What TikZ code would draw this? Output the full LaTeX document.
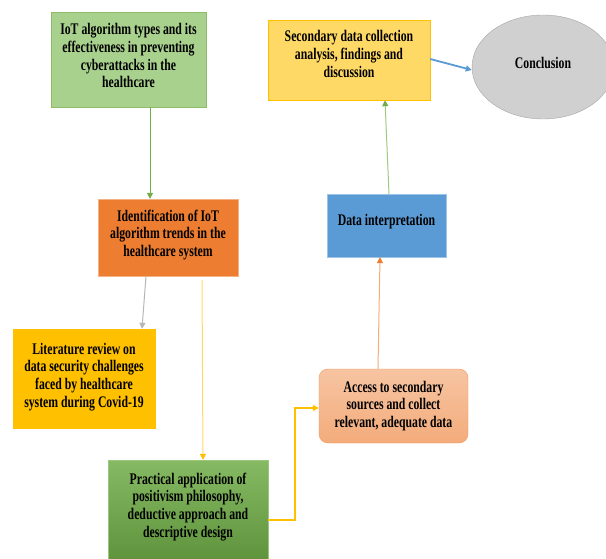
\documentclass[tikz,border=0pt]{standalone}
\usepackage{fontspec}
\setmainfont[FakeStretch=0.725]{Liberation Serif}
\usetikzlibrary{arrows.meta,shapes.geometric}

\definecolor{lightgreen}{HTML}{A9D18E}
\definecolor{midgreen}{HTML}{70AD47}
\definecolor{orangebox}{HTML}{ED7D31}
\definecolor{orangeline}{HTML}{F4B183}
\definecolor{gold}{HTML}{FFC000}
\definecolor{paleyellow}{HTML}{FFD966}
\definecolor{bluebox}{HTML}{5B9BD5}
\definecolor{paleblue}{HTML}{9DC3E6}
\definecolor{greybox}{HTML}{D0D0D0}
\definecolor{greyline}{HTML}{A5A5A5}

\begin{document}
\begin{tikzpicture}[%
      x=1pt, y=-1pt,
      box/.style={draw, align=center, inner sep=0pt,
        font=\bfseries\fontsize{16.2}{17.8}\selectfont},
      link/.style={line width=1pt, -{Triangle[length=6pt,width=6pt]}},
      ]
      \useasboundingbox (0,0) rectangle (606,559);

      % boxes
      \node [box, fill=lightgreen, draw=midgreen!80, minimum width=155pt, minimum height=95pt]
        (types) at (128.5,59.5) {IoT algorithm types and its\\effectiveness in preventing\\cyberattacks in the\\healthcare\\[-10pt]};
      \node [box, fill=orangebox, draw=orangeline, minimum width=140pt, minimum height=77pt]
        (trends) at (168,237.5) {Identification of IoT\\algorithm trends in the\\healthcare system\\[-9pt]};
      \node [box, fill=gold, draw=gold, minimum width=142pt, minimum height=99pt]
        (review) at (84,378.5) {Literature review on\\data security challenges\\faced by healthcare\\system during Covid-19\\[-11pt]};
      \node [box, top color=midgreen!85!white, bottom color=midgreen!85!black, draw=midgreen!70,
        minimum width=160pt, minimum height=100pt]
        (practical) at (188,510) {Practical application of\\positivism philosophy,\\deductive approach and\\descriptive design\\[-8pt]};
      \node [box, rounded corners=9pt, top color=orangeline!75!white, bottom color=orangeline!90!orangebox,
        draw=orangebox!80, minimum width=149pt, minimum height=74pt]
        (access) at (393.5,406) {Access to secondary\\sources and collect\\relevant, adequate data};
      \node [box, fill=bluebox, draw=paleblue, minimum width=119pt, minimum height=63pt]
        (interp) at (386.5,225.5) {Data interpretation\\[-7pt]};
      \node [box, fill=paleyellow, draw=gold, minimum width=162pt, minimum height=80pt]
        (secondary) at (349,60) {Secondary data collection\\analysis, findings and\\discussion\\[-6pt]};
      \node [box, ellipse, fill=greybox, draw=greyline, minimum width=142pt, minimum height=104pt]
        (conclusion) at (543,67) {Conclusion\\[-10pt]};

      % connectors
      \draw [link, color=midgreen] ([xshift=21.5pt]types.south) -- ([xshift=-18pt]trends.north);
      \draw [link, color=greyline!80] ([xshift=-22pt]trends.south) -- ([xshift=58pt]review.north);
      \draw [link, color=paleyellow, -{Triangle[length=6pt,width=6pt,color=gold]}]
        ([xshift=34pt,yshift=-4pt]trends.south) -- ([xshift=15pt]practical.north);
      \draw [link, color=gold, line width=1.5pt]
        ([yshift=-10pt]practical.east) -- ++(27,0) |- ([yshift=-2pt]access.west);
      \draw [link, color=orangeline!90!orangebox, -{Triangle[length=6pt,width=6pt,color=orangebox]}]
        ([xshift=-15.5pt]access.north) -- ([xshift=-6.5pt]interp.south);
      \draw [link, color=lightgreen!80!midgreen, -{Triangle[length=6pt,width=6pt,color=midgreen]}]
        ([xshift=2.5pt]interp.north) -- ([xshift=36pt]secondary.south);
      \draw [link, color=bluebox, line width=1.8pt] ([yshift=1pt]secondary.east) -- ([yshift=-3pt]conclusion.west);
      \end{tikzpicture}
\end{document}
